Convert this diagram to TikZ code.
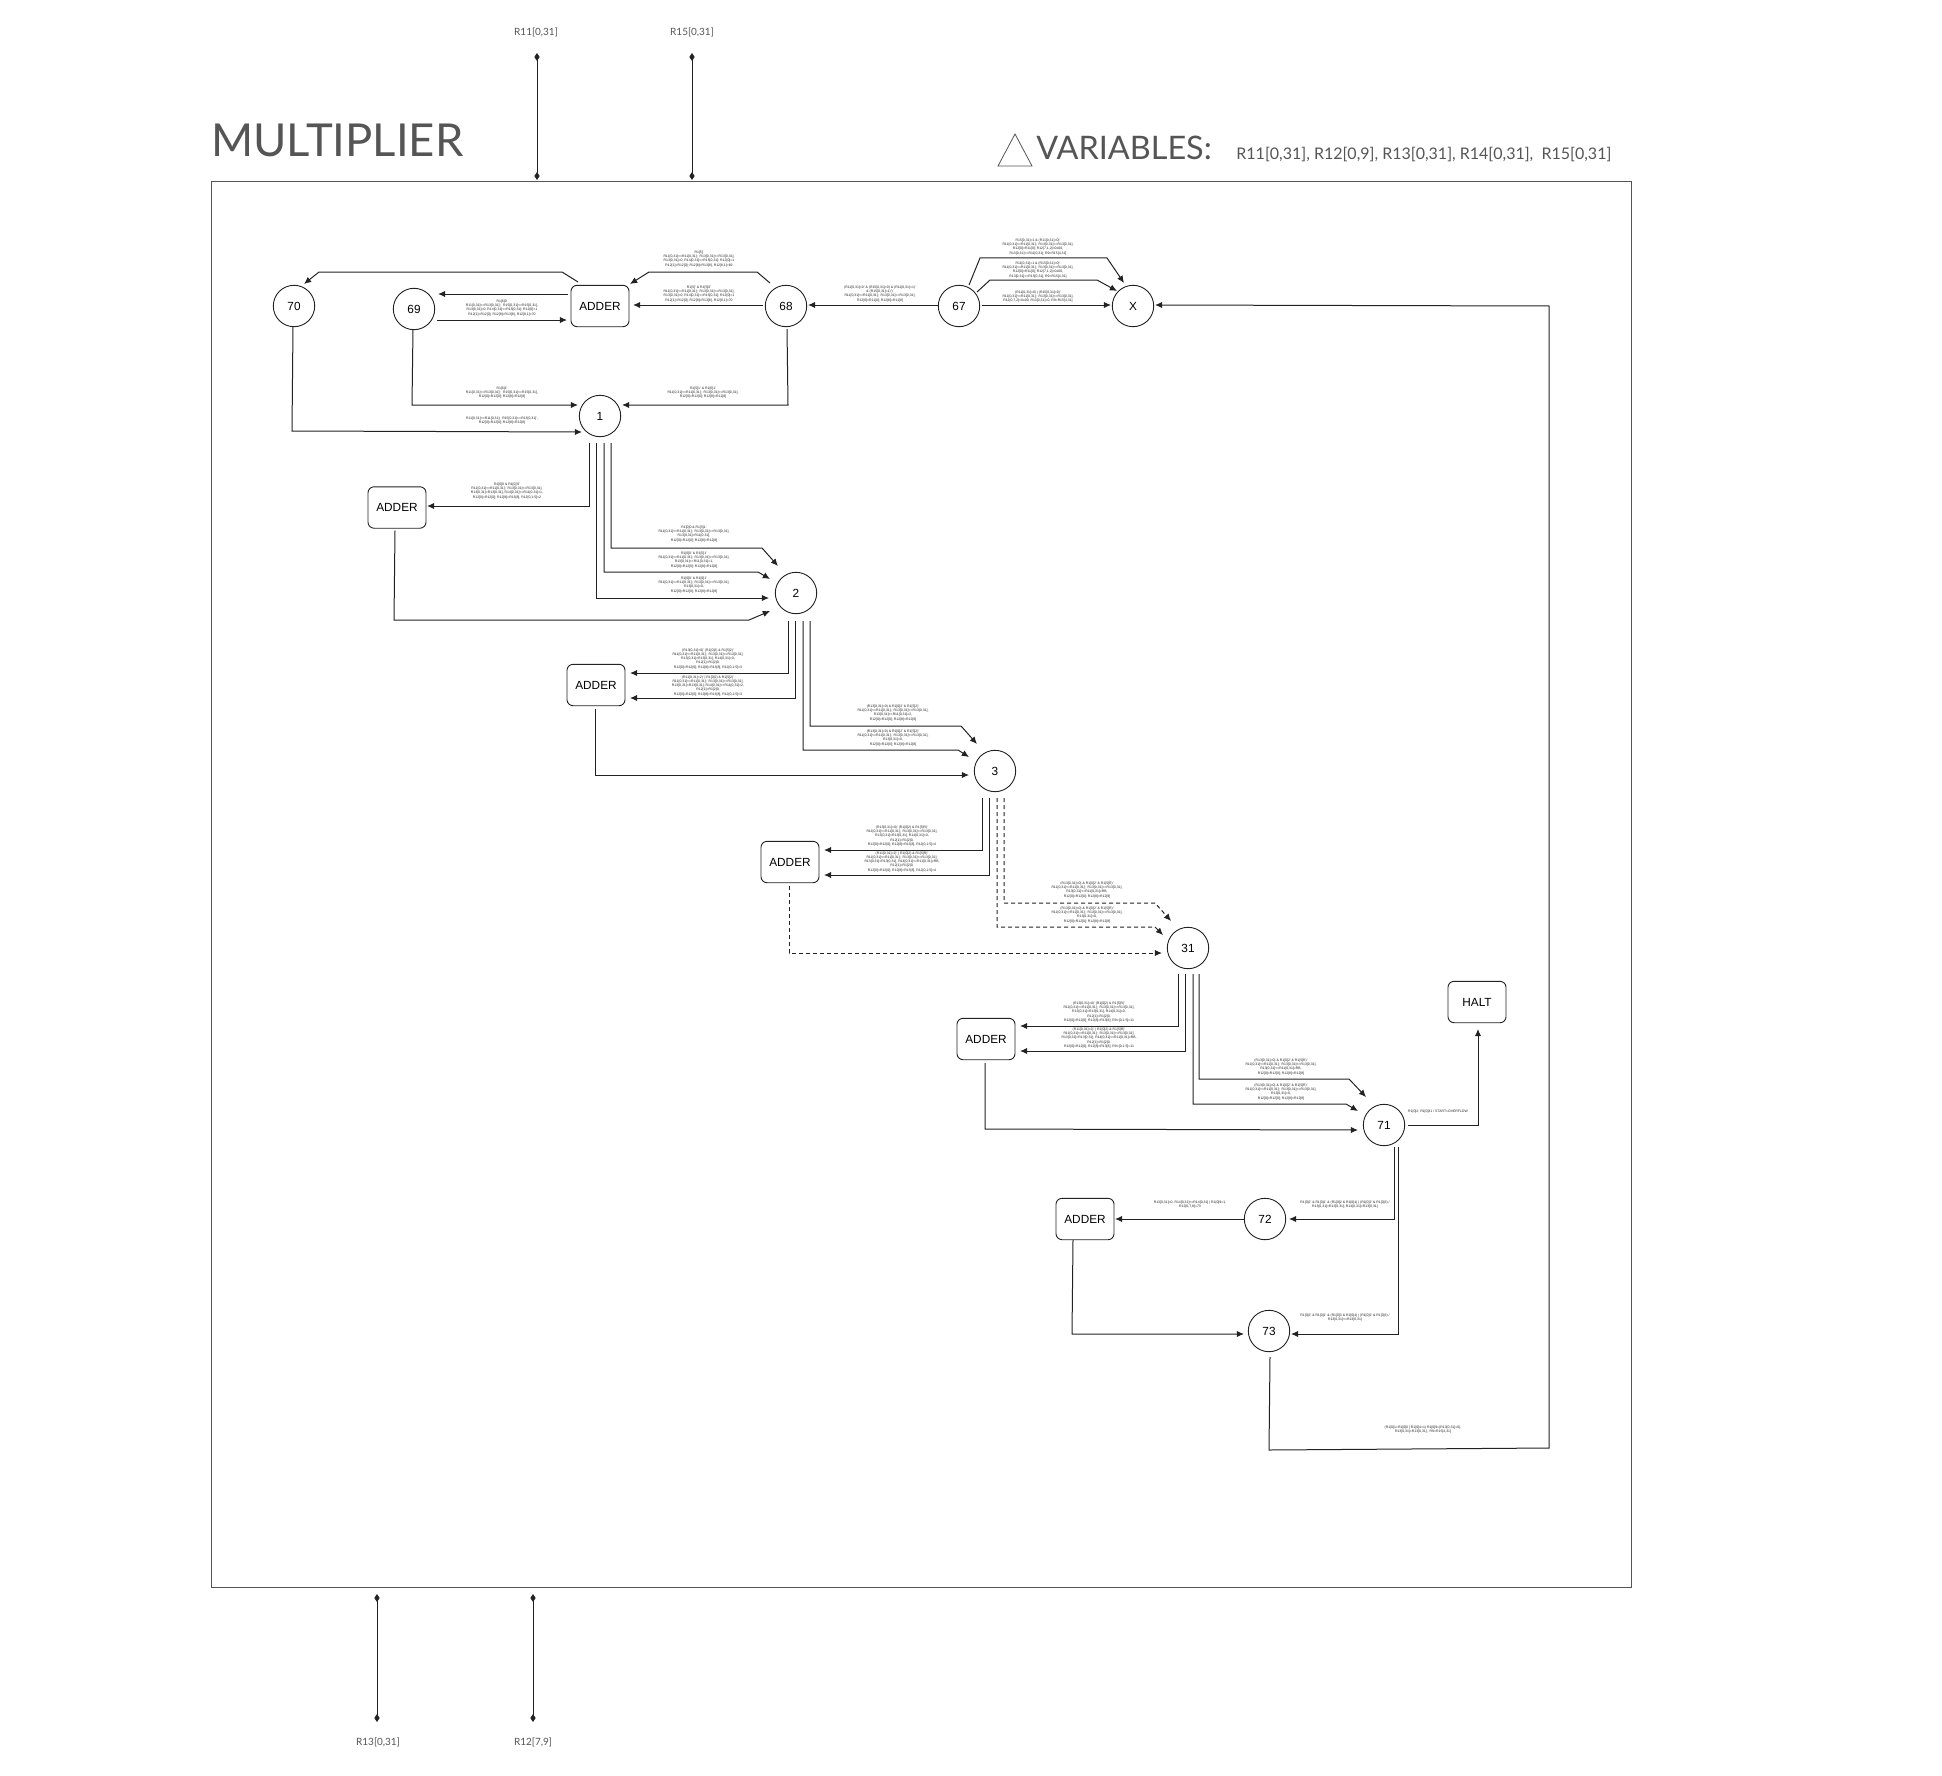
\documentclass[tikz,border=0pt]{standalone}
\usepackage{fontspec}
\setmainfont{Liberation Sans}
\newfontfamily\latofont{Lato}
\usetikzlibrary{arrows.meta}
\definecolor{ink}{HTML}{222222}
\definecolor{headgray}{HTML}{555555}
\tikzset{
  circ/.style={circle,draw=ink,line width=0.45pt,minimum size=20.7pt,inner sep=0pt,font=\fontsize{5.9}{7}\selectfont,text=black},
  boxn/.style={rectangle,rounded corners=3pt,draw=ink,line width=0.45pt,minimum width=29pt,minimum height=20.7pt,inner sep=0pt,font=\fontsize{5.9}{7}\selectfont,text=black},
  edge/.style={draw=ink,line width=0.5pt,-{Latex[length=3.6pt,width=3.2pt]}},
  dedge/.style={edge,dash pattern=on 2pt off 1.5pt},
  lab/.style={inner sep=0pt,align=center,text=ink,font=\fontsize{1.72}{2.05}\selectfont},
  port/.style={draw=ink,line width=0.35pt,{Diamond[length=4pt,width=2.6pt]}-{Diamond[length=4pt,width=2.6pt]}},
  plab/.style={inner sep=0pt,text=headgray,font=\latofont\fontsize{5}{6}\selectfont},
}
\begin{document}
\begin{tikzpicture}[x=0.5pt,y=-0.5pt]
\useasboundingbox (0,0) rectangle (1942,1776);
\node[draw=headgray,line width=0.5pt,minimum width=710pt,minimum height=702.5pt,inner sep=0pt] (frame) at (921,884.5) {};
\node[inner sep=0pt,anchor=west,text=headgray,font=\latofont\fontsize{22.7}{27}\selectfont] (title) at (211,140) {MULTIPLIER};
\draw[draw=headgray,line width=0.4pt] (998,166) -- (1015,134) -- (1032,166) -- cycle;
\node[inner sep=0pt,anchor=west,text=headgray,font=\latofont\fontsize{16.2}{20}\selectfont] (vars) at (1036,148) {VARIABLES:};
\node[inner sep=0pt,anchor=west,text=headgray,font=\latofont\fontsize{8}{10}\selectfont] (varlist) at (1236,155) {R11[0,31], R12[0,9], R13[0,31], R14[0,31],\ \ R15[0,31]};

% ports
\node[plab] (pa) at (536,32) {R11[0,31]};
\node[plab] (pb) at (692,32) {R15[0,31]};
\node[plab] (pc) at (378,1742) {R13[0,31]};
\node[plab] (pd) at (533,1742) {R12[7,9]};
\coordinate (pa1) at (537,53); \coordinate (pa2) at (537,180);
\coordinate (pb1) at (692,53); \coordinate (pb2) at (692,180);
\coordinate (pc1) at (377,1594); \coordinate (pc2) at (377,1722);
\coordinate (pd1) at (533,1594); \coordinate (pd2) at (533,1722);
\draw[port] (pa1) -- (pa2);
\draw[port] (pb1) -- (pb2);
\draw[port] (pc1) -- (pc2);
\draw[port] (pd1) -- (pd2);

% nodes
\node[circ] (n70) at (294,306) {70};
\node[circ] (n69) at (414,309) {69};
\node[boxn] (adA) at (600,306) {ADDER};
\node[circ] (n68) at (786,306) {68};
\node[circ] (n67) at (959,306) {67};
\node[circ] (nX) at (1133,306) {X};
\node[circ] (n1) at (600,416) {1};
\node[boxn] (adB) at (397,507.5) {ADDER};
\node[circ] (n2) at (796,593) {2};
\node[boxn] (adC) at (596,685) {ADDER};
\node[circ] (n3) at (995,771) {3};
\node[boxn] (adD) at (790,862) {ADDER};
\node[circ] (n31) at (1188,948) {31};
\node[boxn] (adE) at (986,1039) {ADDER};
\node[boxn] (halt) at (1477,1002) {HALT};
\node[circ] (n71) at (1384,1125) {71};
\node[boxn] (adF) at (1085,1219) {ADDER};
\node[circ] (n72) at (1265,1219) {72};
\node[circ] (n73) at (1269,1331) {73};

% connectors, top row
\draw[edge] ([shift={(-22,-24)}]adA.center) -- (562,272) -- (319,272) -- ([shift={(10,-22)}]n70.center);
\draw[edge] ([shift={(-32,-12)}]adA.center) -- ([shift={(24,-15)}]n69.center);
\draw[edge] ([shift={(23,11)}]n69.center) -- ([shift={(-33,14)}]adA.center);
\draw[edge] ([shift={(-23,-1)}]n68.center) -- ([shift={(33,-1)}]adA.center);
\draw[edge] ([shift={(-16,-23)}]n68.center) -- (757,272) -- (649,272) -- ([shift={(30,-22)}]adA.center);
\draw[edge] ([shift={(-1,20)}]n69.center) -- (412,405) -- ([shift={(-22,-11)}]n1.center);
\draw[edge] ([shift={(-1,20)}]n70.center) -- (292,431) -- ([shift={(-18,16)}]n1.center);
\draw[edge] ([shift={(1,23)}]n68.center) -- (788,405) -- ([shift={(22,-11)}]n1.center);
\draw[edge] ([shift={(-21,-1)}]n67.center) -- ([shift={(22,-1)}]n68.center);
\draw[edge] ([shift={(23,-1)}]n67.center) -- ([shift={(-22,-1)}]nX.center);
\draw[edge] ([shift={(18,-14)}]n67.center) -- (990,280) -- (1097,280) -- ([shift={(-16,-15)}]nX.center);
\draw[edge] ([shift={(10,-21)}]n67.center) -- (980,258) -- (1107,258) -- ([shift={(-9,-23)}]nX.center);
\draw[edge] ([shift={(1,26)}]n73.center) -- (1269,1450) -- (1549,1448) -- (1549,306) -- ([shift={(22,-1)}]nX.center);

% from 1
\draw[edge] ([shift={(-11,27)}]n1.center) -- (589,506) -- ([shift={(30,-1.5)}]adB.center);
\draw[edge] ([shift={(-4,27)}]n1.center) -- (596,598) -- ([shift={(-27,5)}]n2.center);
\draw[edge] ([shift={(4,27)}]n1.center) -- (604,572) -- (758,572) -- ([shift={(-26,-14)}]n2.center);
\draw[edge] ([shift={(11,27)}]n1.center) -- (611,548) -- (762,548) -- ([shift={(-18,-27)}]n2.center);
\draw[edge] ([shift={(-2,23)}]adB.center) -- (394,620) -- (749,620) -- ([shift={(-26,18)}]n2.center);

% from 2
\draw[edge] ([shift={(-8,28)}]n2.center) -- (788,673) -- ([shift={(34,-12)}]adC.center);
\draw[edge] ([shift={(-1,28)}]n2.center) -- (795,698) -- ([shift={(34,13)}]adC.center);
\draw[edge] ([shift={(7,28)}]n2.center) -- (803,750) -- (958,750) -- ([shift={(-26,-14)}]n3.center);
\draw[edge] ([shift={(14,28)}]n2.center) -- (810,726) -- (961,726) -- ([shift={(-18,-27)}]n3.center);
\draw[edge] ([shift={(-1,24)}]adC.center) -- (595,775) -- ([shift={(-26,4)}]n3.center);

% from 3
\draw[edge] ([shift={(-13,27)}]n3.center) -- (982,850) -- ([shift={(34,-12)}]adD.center);
\draw[edge] ([shift={(-6,27)}]n3.center) -- (989,875) -- ([shift={(34,13)}]adD.center);
\draw[dedge] ([shift={(2,27)}]n3.center) -- (997,927) -- (1155,927) -- ([shift={(-25,-13)}]n31.center);
\draw[dedge] ([shift={(9,27)}]n3.center) -- (1004,903) -- (1155,903) -- ([shift={(-17,-27)}]n31.center);
\draw[dedge] ([shift={(-1,24)}]adD.center) -- (789,953) -- ([shift={(-26,5)}]n31.center);

% from 31
\draw[edge] ([shift={(-10,26)}]n31.center) -- (1178,1026) -- ([shift={(34,-13)}]adE.center);
\draw[edge] ([shift={(-3,26)}]n31.center) -- (1185,1051) -- ([shift={(34,12)}]adE.center);
\draw[edge] ([shift={(5,26)}]n31.center) -- (1193,1104) -- (1346,1104) -- ([shift={(-26,-14)}]n71.center);
\draw[edge] ([shift={(11,26)}]n31.center) -- (1199,1079) -- (1349,1079) -- ([shift={(-18,-28)}]n71.center);
\draw[edge] ([shift={(-1,24)}]adE.center) -- (985,1129) -- ([shift={(-26,5)}]n71.center);

% from 71
\draw[edge] ([shift={(24,0)}]n71.center) -- (1478,1125) -- ([shift={(1,27)}]halt.center);
\draw[edge] ([shift={(10,22)}]n71.center) -- (1394,1219) -- ([shift={(24,0)}]n72.center);
\draw[edge] ([shift={(14,22)}]n71.center) -- (1398,1334) -- ([shift={(22,3)}]n73.center);
\draw[edge] ([shift={(-20,0)}]n72.center) -- ([shift={(30,0)}]adF.center);
\draw[edge] ([shift={(-12,21)}]adF.center) -- (1072,1334) -- ([shift={(-25,3)}]n73.center);

% labels
\node[lab] (l01) at (699,259) {R1[5]'\\R11[0,31]<=R11[0,31];\ \ R13[0,31]<=R13[0,31],\\R13[0,31]=0, R14[0,31]<=R15[0,31]; R12[0]=1\\R12[1]=R12[0]; R12[8]=R13[8], R12[8,1]=69};
\node[lab] (l02) at (699,294) {R1[5]' \& R1[5]0'\\R11[0,31]<=R11[0,31];\ \ R13[0,31]<=R13[0,31],\\R13[0,31]=0, R14[0,31]<=R15[0,31]; R12[0]=1\\R12[1]=R12[0]; R12[8]=R13[8], R12[8,1]=70};
\node[lab] (l03) at (502,308) {R1[6]0'\\R11[0,31]<=R13[0,31]';\ \ R15[0,31]<=R15[0,31],\\R13[0,31]=0, R14[0,31]<=R15[0,31]; R12[0]=1\\R12[1]=R12[0]; R12[8]=R13[8], R12[8,1]=70};
\node[lab] (l04) at (502,393) {R1[6]1'\\R11[0,31]<=R13[0,31]';\ \ R15[0,31]<=R15[0,31],\\R12[0]=R12[0]; R12[8]=R12[8]};
\node[lab] (l05) at (703,393) {R1[5]1' \& R1[6]1'\\R11[0,31]<=R11[0,31];\ \ R13[0,31]<=R13[0,31],\\R12[0]=R12[0]; R12[8]=R12[8]};
\node[lab] (l06) at (502,421) {R11[0,31]<=R11[0,31];\ \ R15[0,31]<=R13[0,31]',\\R12[0]=R12[0]; R12[8]=R12[8]};
\node[lab] (l07) at (880,294) {(R11[0,31]=0' \& (R15[0,31]=0) \& (R11[0,31]=1)'\\\& (R15[0,31]=1)')'\\R11[0,31]<=R11[0,31];\ \ R13[0,31]<=R13[0,31],\\R12[0]=R11[0]; R12[8]=R11[8]};
\node[lab] (l08) at (1038,247) {R15[0,31]=1 \& (R11[0,31]=0)'\\R11[0,31]<=R11[0,31];\ \ R13[0,31]<=R13[0,31],\\R12[0]=R11[0]; R12[7,1,2]=0x00,\\R13[0,31]<=R11[0,31]; R9=R15[4,31]};
\node[lab] (l09) at (1038,270) {R11[0,31]=1 \& (R15[0,31]=0)'\\R11[0,31]<=R11[0,31];\ \ R13[0,31]<=R13[0,31],\\R12[0]=R11[0]; R12[7,1,2]=0x00,\\R13[0,31]<=R15[0,31]; R9=R15[4,31]};
\node[lab] (l10) at (1038,297) {(R11[0,31]=0) | (R15[0,31]=0)'\\R11[0,31]<=R11[0,31];\ \ R13[0,31]<=R13[0,31],\\R12[0,7,2]=0x00, R13[0,31]=0, R9=R15[4,31]};
\node[lab] (l11) at (507,491) {R1[6]0 \& R1[0]'0'\\R11[0,31]<=R11[0,31];\ \ R13[0,31]<=R13[0,31],\\R13[0,31]=R13[0,31], R14[0,31]<=R11[0,31]<<1,\\R12[0]=R12[0]; R12[8]=R13[8], R12[0,1:5]=2};
\node[lab] (l12) at (694,534) {R1[0]0 \& R1[5]1'\\R11[0,31]<=R11[0,31];\ \ R13[0,31]<=R13[0,31],\\R13[0,31]=R11[0,31],\\R12[0]=R12[0]; R12[8]=R12[8]};
\node[lab] (l13) at (694,560) {R1[0]0' \& R1[5]1'\\R11[0,31]<=R11[0,31];\ \ R13[0,31]<=R13[0,31],\\R13[0,31]<=R11[0,31]<<1,\\R12[0]=R12[0]; R12[8]=R12[8]};
\node[lab] (l14) at (694,585) {R1[0]0' \& R1[0]1'\\R11[0,31]<=R11[0,31];\ \ R13[0,31]<=R13[0,31],\\R13[0,31]=0,\\R12[0]=R12[0]; R12[8]=R12[8]};
\node[lab] (l15) at (708,659) {(R13[0,31]=0)' (R1[0]2) \& R1[5]2)'\\R11[0,31]<=R11[0,31];\ \ R13[0,31]<=R13[0,31],\\R13[0,31]=R13[0,31], R14[0,31]=0,\\R12[1]=R1[2]0,\\R12[0]=R12[0]; R12[8]=R13[8], R12[0,1:5]=3};
\node[lab] (l16) at (708,686) {(R11[0,31]=2)' | R1[0]2) \& R1[5]2)'\\R11[0,31]<=R11[0,31];\ \ R13[0,31]<=R13[0,31],\\R13[0,31]=R13[0,31], R14[0,31]<=R11[0,31]<<2,\\R12[1]=R1[2]0,\\R12[0]=R12[0]; R12[8]=R13[8], R12[0,1:5]=3};
\node[lab] (l17) at (893,713) {(R13[0,31]=0) \& R1[0]2' \& R1[5]2)'\\R11[0,31]<=R11[0,31];\ \ R13[0,31]<=R13[0,31],\\R13[0,31]<=R11[0,31]<<2,\\R12[0]=R12[0]; R12[8]=R12[8]};
\node[lab] (l18) at (893,738) {(R13[0,31]=0) \& R1[0]2' \& R1[5]2)'\\R11[0,31]<=R11[0,31];\ \ R13[0,31]<=R13[0,31],\\R13[0,31]=0,\\R12[0]=R12[0]; R12[8]=R12[8]};
\node[lab] (l19) at (902,836) {(R13[0,31]=0)' (R1[0]2) \& R1[5]R)'\\R11[0,31]<=R11[0,31];\ \ R13[0,31]<=R13[0,31],\\R13[0,31]=R13[0,31], R14[0,31]=0,\\R12[1]=R1[2]0,\\R12[0]=R12[0]; R12[8]=R13[8], R12[0,1:5]=4};
\node[lab] (l20) at (902,862) {(R11[0,31]=2)' | R1[0]2) \& R1[5]R)'\\R11[0,31]<=R11[0,31];\ \ R13[0,31]<=R13[0,31],\\R13[0,31]=R13[0,31], R14[0,31]<=R11[0,31]<<RB,\\R12[1]=R1[2]0,\\R12[0]=R12[0]; R12[8]=R13[8], R12[0,1:5]=4};
\node[lab] (l21) at (1087,890) {(R13[0,31]=0) \& R1[0]2' \& R1[5]R)'\\R11[0,31]<=R11[0,31];\ \ R13[0,31]<=R13[0,31],\\R13[0,31]<=R11[0,31]<<RB,\\R12[0]=R12[0]; R12[8]=R12[8]};
\node[lab] (l22) at (1087,915) {(R13[0,31]=0) \& R1[0]2' \& R1[5]R)'\\R11[0,31]<=R11[0,31];\ \ R13[0,31]<=R13[0,31],\\R13[0,31]=0,\\R12[0]=R12[0]; R12[8]=R12[8]};
\node[lab] (l23) at (1099,1012) {(R13[0,31]=0)' (R1[0]2) \& R1[5]R)'\\R11[0,31]<=R11[0,31];\ \ R13[0,31]<=R13[0,31],\\R13[0,31]=R13[0,31], R14[0,31]=0,\\R12[1]=R1[2]0,\\R12[0]=R12[0]; R12[8]=R13[8], R9=[0,1:5]=11};
\node[lab] (l24) at (1099,1038) {(R11[0,31]=2)' | R1[0]2) \& R1[5]R)'\\R11[0,31]<=R11[0,31];\ \ R13[0,31]<=R13[0,31],\\R13[0,31]=R13[0,31], R14[0,31]<=R11[0,31]<<RB,\\R12[1]=R1[2]0,\\R12[0]=R12[0]; R12[8]=R13[8], R9=[0,1:5]=11};
\node[lab] (l25) at (1281,1067) {(R13[0,31]=0) \& R1[0]2' \& R1[5]R)'\\R11[0,31]<=R11[0,31];\ \ R13[0,31]<=R13[0,31],\\R13[0,31]<=R11[0,31]<<RB,\\R12[0]=R12[0]; R12[8]=R12[8]};
\node[lab] (l26) at (1281,1092) {(R13[0,31]=0) \& R1[0]2' \& R1[5]R)'\\R11[0,31]<=R11[0,31];\ \ R13[0,31]<=R13[0,31],\\R13[0,31]=0,\\R12[0]=R12[0]; R12[8]=R12[8]};
\node[lab] (l27) at (1438,1112) {R1[0]2; R1[0]31 / START=OVERFLOW};
\node[lab] (l28) at (1190,1205) {R13[0,31]=0, R14[0,31]<=R14[0,31] | R1[0]9=1,\\R12[0,7,8]=73};
\node[lab] (l29) at (1345,1205) {R1[0]2' \& R1[0]1' \& (R1[0]2 \& R1[0]4) | (R1[0]2' \& R1[0]3) /\\R13[0,31]=R13[0,31]; R14[0,31]=R13[0,31]};
\node[lab] (l30) at (1345,1318) {R1[0]2' \& R1[0]1' \& (R1[0]3 \& R1[0]4) | (R1[0]2' \& R1[0]3) /\\R13[0,31]<=R13[0,31]};
\node[lab] (l31) at (1423,1430) {(R1[0]1=R1[0]0 | R1[0]4=1) R1[0]9=(R13[0,31]=0),\\R13[0,31]=R13[0,31],\ \ R9=R15[4,31]};
\end{tikzpicture}
\end{document}
